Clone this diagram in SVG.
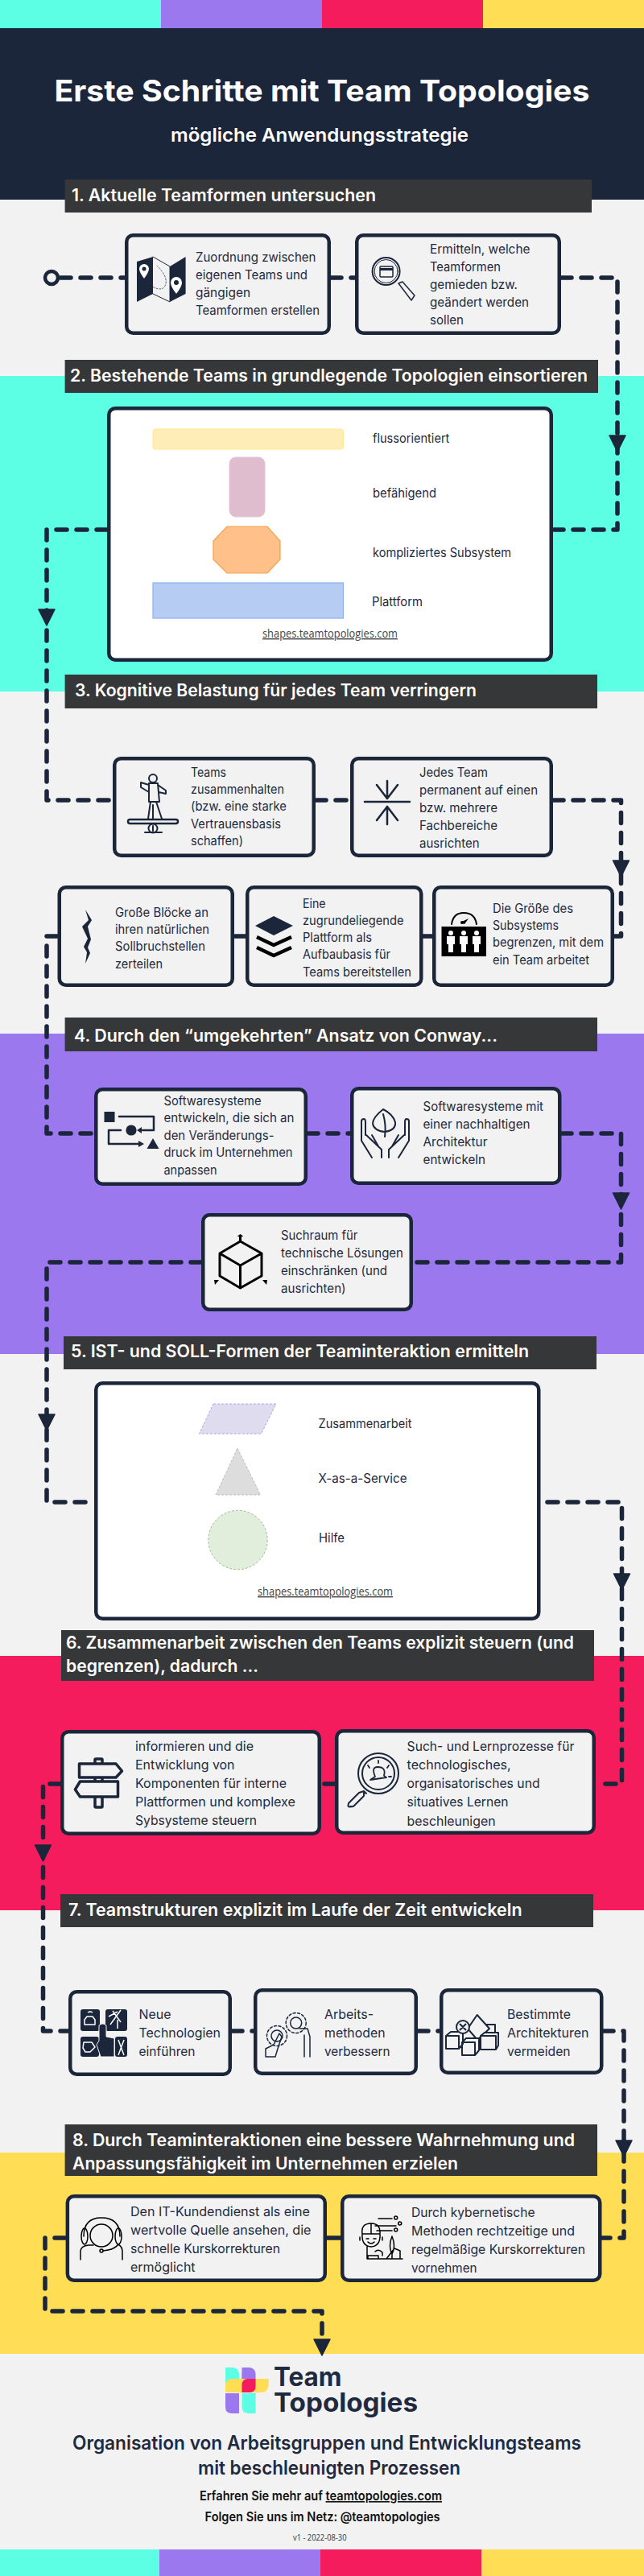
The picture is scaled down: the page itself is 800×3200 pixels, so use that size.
<svg xmlns="http://www.w3.org/2000/svg" width="800" height="3200" viewBox="0 0 800 3200">
<style>
text{font-family:Inter,"Liberation Sans",sans-serif;fill:#1f2a40}
.b{font-size:15.500px}
.e{font-size:16.500px}
.h{font-size:21px;font-weight:600;fill:#fff}
.s{font-family:"Open Sans","Liberation Sans",sans-serif;font-size:14px;fill:#444;text-decoration:underline}
.box{fill:#f2f2f2;stroke:#1b263b;stroke-width:4.500}
.wb{fill:#fff;stroke:#1b263b;stroke-width:4.500}
.bar{fill:#363739}
.c{fill:none;stroke:#1b263b;stroke-width:5.500;stroke-linecap:round;stroke-linejoin:round;stroke-dasharray:13 12}
.i{fill:none;stroke:#1b263b;stroke-width:2;stroke-linecap:round;stroke-linejoin:round}
.d{fill:#1b263b}
.w{fill:#fff}
</style>
<defs>
<path id="ah" d="M-10 0H10L0 20Z" fill="#1b263b" stroke="#1b263b" stroke-width="1.500" stroke-linejoin="round"/>
</defs>
<g id="background">
<rect width="800" height="3200" fill="#f2f2f2"/>
<rect width="200" height="35" fill="#5cffe4"/><rect x="200" width="200" height="35" fill="#9b78ee"/><rect x="400" width="200" height="35" fill="#f51c5e"/><rect x="600" width="200" height="35" fill="#ffdd55"/>
<rect y="35" width="800" height="213" fill="#1b263b"/>
<rect y="467" width="800" height="392" fill="#5cffe4"/>
<rect y="1284" width="800" height="398" fill="#9b78ee"/>
<rect y="2057" width="800" height="316" fill="#f51c5e"/>
<rect y="2674" width="800" height="250" fill="#ffdd55"/>
<rect y="3167" width="198" height="33" fill="#5cffe4"/><rect x="198" y="3167" width="200" height="33" fill="#9b78ee"/><rect x="398" y="3167" width="200.500" height="33" fill="#f51c5e"/><rect x="598.500" y="3167" width="201.500" height="33" fill="#ffdd55"/>
</g>
<g id="connectors">
<circle cx="64" cy="345" r="8" fill="none" stroke="#1b263b" stroke-width="4.500"/>
<path class="c" d="M75 345H155"/>
<path class="c" d="M411 345H441"/>
<path class="c" d="M697 345H767V658H688"/>
<path class="c" d="M133 658H58V994H140"/>
<path class="c" d="M392 994H435"/>
<path class="c" d="M687 994H771.500V1163H763"/>
<path class="c" d="M537 1163H525"/>
<path class="c" d="M305 1163H291"/>
<path class="c" d="M71 1163H58V1408H117"/>
<path class="c" d="M382 1408H435"/>
<path class="c" d="M697 1408H771.500V1568H513"/>
<path class="c" d="M250 1568H58V1866H117"/>
<path class="c" d="M680 1866H772.500V2216H740"/>
<path class="c" d="M416 2216H399"/>
<path class="c" d="M75 2216H53.500V2523H85"/>
<path class="c" d="M288 2523H315"/>
<path class="c" d="M519 2523H546"/>
<path class="c" d="M749 2523H775V2780H747"/>
<path class="c" style="stroke-dasharray:none" d="M423 2780H406"/>
<path class="c" d="M81 2780H56V2871H400V2905"/>
<use href="#ah" x="767" y="541"/>
<use href="#ah" x="58" y="757"/>
<use href="#ah" x="771.500" y="1069"/>
<use href="#ah" x="771.500" y="1482"/>
<use href="#ah" x="58" y="1757"/>
<use href="#ah" x="772.500" y="1955"/>
<use href="#ah" x="53.500" y="2292"/>
<use href="#ah" x="775" y="2659"/>
<use href="#ah" x="400" y="2906"/>
</g>
<g id="title">
<text x="400" y="126" text-anchor="middle" textLength="665" lengthAdjust="spacingAndGlyphs" font-size="37" font-weight="700" style="fill:#fff">Erste Schritte mit Team Topologies</text>
<text x="397" y="176" text-anchor="middle" textLength="370" lengthAdjust="spacingAndGlyphs" font-size="23" font-weight="600" style="fill:#fff">mögliche Anwendungsstrategie</text>
</g>
<g id="section-1"><rect class="bar" x="80.600" y="223" width="654.400" height="41"/><text class="h" x="89" y="250" textLength="378" lengthAdjust="spacingAndGlyphs">1. Aktuelle Teamformen untersuchen</text></g>
<g id="section-2"><rect class="bar" x="80.600" y="447" width="662.400" height="41"/><text class="h" x="87" y="474" textLength="643" lengthAdjust="spacingAndGlyphs">2. Bestehende Teams in grundlegende Topologien einsortieren</text></g>
<g id="section-3"><rect class="bar" x="80.600" y="838" width="661.400" height="42"/><text class="h" x="93" y="865" textLength="499" lengthAdjust="spacingAndGlyphs">3. Kognitive Belastung für jedes Team verringern</text></g>
<g id="section-4"><rect class="bar" x="80.600" y="1264" width="661.400" height="42"/><text class="h" x="92" y="1294" textLength="526" lengthAdjust="spacingAndGlyphs">4. Durch den “umgekehrten” Ansatz von Conway...</text></g>
<g id="section-5"><rect class="bar" x="79" y="1660" width="662" height="41"/><text class="h" x="88" y="1686" textLength="569" lengthAdjust="spacingAndGlyphs">5. IST- und SOLL-Formen der Teaminteraktion ermitteln</text></g>
<g id="section-6"><rect class="bar" x="76" y="2025" width="662" height="63"/><text class="h" x="82" y="2048" textLength="631" lengthAdjust="spacingAndGlyphs">6. Zusammenarbeit zwischen den Teams explizit steuern (und</text><text class="h" x="82" y="2077" textLength="239" lengthAdjust="spacingAndGlyphs">begrenzen), dadurch ...</text></g>
<g id="section-7"><rect class="bar" x="75" y="2353" width="662" height="41"/><text class="h" x="85" y="2380" textLength="563.500" lengthAdjust="spacingAndGlyphs">7. Teamstrukturen explizit im Laufe der Zeit entwickeln</text></g>
<g id="section-8"><rect class="bar" x="80.600" y="2639" width="661.400" height="64"/><text class="h" x="90" y="2666" textLength="624" lengthAdjust="spacingAndGlyphs">8. Durch Teaminteraktionen eine bessere Wahrnehmung und</text><text class="h" x="90" y="2695" textLength="479" lengthAdjust="spacingAndGlyphs">Anpassungsfähigkeit im Unternehmen erzielen</text></g>

<g id="n1"><rect class="box" x="157.250" y="292.250" width="251.500" height="121.500" rx="8"/>
<path class="d" d="M170 325L190 319V365L170 375ZM211 331L230.600 319V365L211 375Z"/><path class="i" style="stroke-width:1" d="M190 319L211 331V375L190 365"/><path class="i" style="stroke-width:.7;stroke-dasharray:2 2" d="M180 350Q200 365 205 355T195 330"/>
<path class="w" d="M179 346Q173 338 173 334A6 6 0 0 1 185 334Q185 338 179 346ZM219 365Q212 356 212 351A7 7 0 0 1 226 351Q226 356 219 365Z"/><circle class="d" cx="179" cy="334" r="2.500"/><circle class="d" cx="219" cy="351" r="3"/>
<text class="b" x="243" y="325" textLength="149.500" lengthAdjust="spacingAndGlyphs">Zuordnung zwischen</text><text class="b" x="243" y="347" textLength="139" lengthAdjust="spacingAndGlyphs">eigenen Teams und</text><text class="b" x="243" y="369" textLength="68" lengthAdjust="spacingAndGlyphs">gängigen</text><text class="b" x="243" y="391" textLength="154" lengthAdjust="spacingAndGlyphs">Teamformen erstellen</text></g>
<g id="n2"><rect class="box" x="443.250" y="292.250" width="251.500" height="121.500" rx="8"/>
<circle cx="479.600" cy="337" r="17" fill="#f2f2f2" stroke="#1b263b" stroke-width="2"/><circle class="i" style="stroke-width:1" cx="479.600" cy="337" r="14.500"/>
<rect class="i" style="stroke-width:1.500" x="472" y="331" width="16" height="13" rx="1"/><rect class="d" x="472" y="333" width="16" height="3"/>
<path class="i" style="stroke-width:1.500" d="M495 352L500 350L515 367L511 373Z"/>
<text class="b" x="534" y="315" textLength="124.500" lengthAdjust="spacingAndGlyphs">Ermitteln, welche</text><text class="b" x="534" y="337" textLength="88" lengthAdjust="spacingAndGlyphs">Teamformen</text><text class="b" x="534" y="359" textLength="109" lengthAdjust="spacingAndGlyphs">gemieden bzw.</text><text class="b" x="534" y="381" textLength="123" lengthAdjust="spacingAndGlyphs">geändert werden</text><text class="b" x="534" y="403" textLength="42" lengthAdjust="spacingAndGlyphs">sollen</text></g>
<g id="n3"><rect class="wb" x="135.250" y="507.250" width="549.500" height="312.500" rx="8"/>
<rect x="190" y="533" width="236.500" height="25" rx="3" fill="#ffedb8" stroke="#ffe78f"/><rect x="285" y="568" width="44" height="74" rx="8" fill="#dfbdcf" stroke="#e2c4d4"/>
<path d="M282 654H332L348 672V695L332 712H282L265 695V672Z" fill="#ffc08a" stroke="#f2a24b" stroke-width="1.200"/><rect x="190" y="724" width="236.500" height="44" fill="#b7ccf2" stroke="#8cb0ee" stroke-width="1.200"/>
<text class="b" x="463" y="550" textLength="95.400" lengthAdjust="spacingAndGlyphs">flussorientiert</text><text class="b" x="463" y="618" textLength="79" lengthAdjust="spacingAndGlyphs">befähigend</text><text class="b" x="463" y="692" textLength="172" lengthAdjust="spacingAndGlyphs">kompliziertes Subsystem</text><text class="b" x="462" y="753" textLength="63" lengthAdjust="spacingAndGlyphs">Plattform</text><text class="s" x="326" y="792" textLength="168" lengthAdjust="spacingAndGlyphs">shapes.teamtopologies.com</text></g>
<g id="n4"><rect class="box" x="142.250" y="942.250" width="247.500" height="120.500" rx="8"/>
<ellipse class="i" cx="190" cy="967" rx="5" ry="5"/><path class="i" d="M185 973H196L198 996H185ZM185 975L175 972V978L185 984M196 975L206 982V986L197 984M187 996L184 1017M194 996L201 1017M190 1000L190 1017"/>
<rect class="i" style="stroke-width:2.500" x="159" y="1018" width="62" height="5" rx="2.500"/><circle class="i" cx="190" cy="1029" r="5.500"/><path class="i" d="M180 1034H201M190 1026V1032"/>
<text class="b" x="237" y="965" textLength="44" lengthAdjust="spacingAndGlyphs">Teams</text><text class="b" x="237" y="986" textLength="116" lengthAdjust="spacingAndGlyphs">zusammenhalten</text><text class="b" x="237" y="1007" textLength="119" lengthAdjust="spacingAndGlyphs">(bzw. eine starke</text><text class="b" x="237" y="1029" textLength="112" lengthAdjust="spacingAndGlyphs">Vertrauensbasis</text><text class="b" x="237" y="1050" textLength="65" lengthAdjust="spacingAndGlyphs">schaffen)</text></g>
<g id="n5"><rect class="box" x="437.250" y="942.250" width="247.500" height="120.500" rx="8"/>
<path class="i" style="stroke-width:2.500" d="M453 996H509M481 970V992M468 975L481 992L494 975M481 1024V1002M468 1019L481 1002L494 1019"/>
<text class="b" x="521" y="965" textLength="85" lengthAdjust="spacingAndGlyphs">Jedes Team</text><text class="b" x="521" y="987" textLength="147" lengthAdjust="spacingAndGlyphs">permanent auf einen</text><text class="b" x="521" y="1009" textLength="97" lengthAdjust="spacingAndGlyphs">bzw. mehrere</text><text class="b" x="521" y="1031" textLength="97" lengthAdjust="spacingAndGlyphs">Fachbereiche</text><text class="b" x="521" y="1053" textLength="74.500" lengthAdjust="spacingAndGlyphs">ausrichten</text></g>
<g id="n6"><rect class="box" x="73.750" y="1102.250" width="215" height="121.500" rx="8"/>
<path class="d" d="M106 1130L114 1143L109 1151L113 1167L109 1177L112 1184L106 1197L108 1183L104 1176L109 1166L102 1151L110 1143Z"/>
<text class="b" x="143" y="1139" textLength="116" lengthAdjust="spacingAndGlyphs">Große Blöcke an</text><text class="b" x="143" y="1160" textLength="117" lengthAdjust="spacingAndGlyphs">ihren natürlichen</text><text class="b" x="143" y="1181" textLength="112" lengthAdjust="spacingAndGlyphs">Sollbruchstellen</text><text class="b" x="143" y="1203" textLength="59" lengthAdjust="spacingAndGlyphs">zerteilen</text></g>
<g id="n7"><rect class="box" x="307.250" y="1102.250" width="216" height="121.500" rx="8"/>
<path class="d" d="M340 1138L364 1150L340 1162L317 1150Z"/><path class="i" style="stroke-width:4.500;stroke:#000;stroke-linecap:butt" d="M319 1164L340 1174L362 1164M319 1177L340 1187L362 1177"/>
<text class="b" x="376" y="1128" textLength="28.600" lengthAdjust="spacingAndGlyphs">Eine</text><text class="b" x="376" y="1149" textLength="125.500" lengthAdjust="spacingAndGlyphs">zugrundeliegende</text><text class="b" x="376" y="1170" textLength="86" lengthAdjust="spacingAndGlyphs">Plattform als</text><text class="b" x="376" y="1191" textLength="109" lengthAdjust="spacingAndGlyphs">Aufbaubasis für</text><text class="b" x="376" y="1213" textLength="135" lengthAdjust="spacingAndGlyphs">Teams bereitstellen</text></g>
<g id="n8"><rect class="box" x="539.250" y="1102.250" width="221.500" height="121.500" rx="8"/>
<path class="i" style="stroke:#000" d="M561 1148Q563 1134 576 1134Q590 1134 592 1148"/><path d="M572 1146L582 1141L577 1148Z" fill="#000"/><circle cx="574" cy="1146" r="2" fill="#000"/>
<rect x="548.500" y="1151" width="55.500" height="37" fill="#000"/>
<g class="w"><circle cx="560" cy="1159" r="3"/><path d="M555 1163H565V1173H563V1183H557V1173H555Z"/><circle cx="576" cy="1159" r="3"/><path d="M571 1163H581V1173H579V1183H573V1173H571Z"/><circle cx="592" cy="1159" r="3"/><path d="M587 1163H597V1173H595V1183H589V1173H587Z"/></g>
<text class="b" x="612" y="1134" textLength="100" lengthAdjust="spacingAndGlyphs">Die Größe des</text><text class="b" x="612" y="1155" textLength="82" lengthAdjust="spacingAndGlyphs">Subsystems</text><text class="b" x="612" y="1176" textLength="138" lengthAdjust="spacingAndGlyphs">begrenzen, mit dem</text><text class="b" x="612" y="1198" textLength="120" lengthAdjust="spacingAndGlyphs">ein Team arbeitet</text></g>
<g id="n9"><rect class="box" x="119.250" y="1353.250" width="260.500" height="117.500" rx="8"/>
<rect class="d" x="129.500" y="1381" width="13" height="13"/><circle class="d" cx="163" cy="1404" r="6.600"/><path class="d" d="M190 1414L197.500 1427H182.500Z"/>
<path class="i" style="stroke-width:2.500" d="M148 1387H191V1404H177M150 1404H135V1421H176"/><path class="d" d="M176 1400V1408L170 1404ZM172 1417V1425L179 1421Z"/>
<text class="b" x="203.500" y="1373" textLength="121" lengthAdjust="spacingAndGlyphs">Softwaresysteme</text><text class="b" x="203.500" y="1394" textLength="162" lengthAdjust="spacingAndGlyphs">entwickeln, die sich an</text><text class="b" x="203.500" y="1416" textLength="137" lengthAdjust="spacingAndGlyphs">den Veränderungs-</text><text class="b" x="203.500" y="1437" textLength="160" lengthAdjust="spacingAndGlyphs">druck im Unternehmen</text><text class="b" x="203.500" y="1459" textLength="66" lengthAdjust="spacingAndGlyphs">anpassen</text></g>
<g id="n10"><rect class="box" x="437.250" y="1352.250" width="258" height="117.500" rx="8"/>
<path class="i" d="M476 1378Q463 1388 463 1396Q465 1405 478 1406Q492 1404 491 1394Q488 1384 476 1378ZM476 1384Q480 1398 478 1412"/>
<path class="i" d="M449 1393Q449 1390 452 1390Q454 1390 454 1394V1410M449 1393V1417L462 1438M455 1410L474 1428V1438M462 1410L470 1424M508 1393Q508 1390 505 1390Q503 1390 503 1394V1410M508 1393V1417L495 1438M502 1410L483 1428V1438M495 1410L487 1424"/>
<text class="b" x="525.500" y="1380" textLength="149.500" lengthAdjust="spacingAndGlyphs">Softwaresysteme mit</text><text class="b" x="525.500" y="1402" textLength="133" lengthAdjust="spacingAndGlyphs">einer nachhaltigen</text><text class="b" x="525.500" y="1424" textLength="80" lengthAdjust="spacingAndGlyphs">Architektur</text><text class="b" x="525.500" y="1446" textLength="77.500" lengthAdjust="spacingAndGlyphs">entwickeln</text></g>
<g id="n11"><rect class="box" x="252.250" y="1509.250" width="258.500" height="117.500" rx="8"/>
<path class="i" style="stroke:#000;stroke-width:3" d="M298.500 1542L325 1557V1585L298.500 1600L273 1585V1557ZM273 1557L298.500 1572L325 1557M298.500 1572V1600M298.500 1542V1536"/>
<path d="M294.500 1536L298.500 1533L302.500 1536ZM266 1590L272 1590L267 1596ZM326 1590L332 1590L331 1596Z" fill="#000"/>
<text class="b" x="349" y="1540" textLength="95.400" lengthAdjust="spacingAndGlyphs">Suchraum für</text><text class="b" x="349" y="1562" textLength="152" lengthAdjust="spacingAndGlyphs">technische Lösungen</text><text class="b" x="349" y="1584" textLength="132" lengthAdjust="spacingAndGlyphs">einschränken (und</text><text class="b" x="349" y="1606" textLength="80.600" lengthAdjust="spacingAndGlyphs">ausrichten)</text></g>
<g id="n12"><rect class="wb" x="119.250" y="1718.250" width="550" height="292.500" rx="8"/>
<path d="M265 1744H343L324.500 1781H247.500Z" fill="#e0dcef" stroke="#b5a3eb" stroke-dasharray="3 2"/><path d="M295 1799L323.500 1857H268Z" fill="#ddd" stroke="#bbb" stroke-dasharray="3 2"/><circle cx="295.500" cy="1913" r="36.700" fill="#e2eedc" stroke="#9dbb91" stroke-dasharray="3 2"/>
<text class="b" x="395.500" y="1774" textLength="116" lengthAdjust="spacingAndGlyphs">Zusammenarbeit</text><text class="b" x="395.500" y="1842" textLength="110" lengthAdjust="spacingAndGlyphs">X-as-a-Service</text><text class="b" x="396" y="1916" textLength="32" lengthAdjust="spacingAndGlyphs">Hilfe</text><text class="s" x="320" y="1982" textLength="168" lengthAdjust="spacingAndGlyphs">shapes.teamtopologies.com</text></g>
<g id="n13"><rect class="box" x="77.250" y="2151.250" width="319.500" height="126.500" rx="8"/>
<rect class="i" style="stroke-width:3.500" x="118" y="2185" width="9" height="60" rx="1"/><path d="M98.500 2191H144L151.500 2200L144 2208H98.500Z" fill="#f2f2f2" stroke="#1b263b" stroke-width="3.500" stroke-linejoin="round"/><path d="M146.500 2213H99.500L93.400 2223L99.500 2232H146.500Z" fill="#f2f2f2" stroke="#1b263b" stroke-width="3.500" stroke-linejoin="round"/>
<text class="e" x="168" y="2175" textLength="147" lengthAdjust="spacingAndGlyphs">informieren und die</text><text class="e" x="168" y="2198" textLength="123.500" lengthAdjust="spacingAndGlyphs">Entwicklung von</text><text class="e" x="168" y="2221" textLength="188" lengthAdjust="spacingAndGlyphs">Komponenten für interne</text><text class="e" x="168" y="2244" textLength="199" lengthAdjust="spacingAndGlyphs">Plattformen und komplexe</text><text class="e" x="168" y="2267" textLength="151" lengthAdjust="spacingAndGlyphs">Sybsysteme steuern</text></g>
<g id="n14"><rect class="box" x="418.250" y="2150.250" width="319.500" height="126.500" rx="8"/>
<circle class="i" cx="470" cy="2203" r="25"/><circle class="i" cx="470" cy="2203" r="20"/><path class="i" style="stroke-width:1.800" d="M460 2211L466 2207Q461 2195 469 2195Q480 2195 477 2206L480 2208ZM470 2187V2190M483 2193L481 2196M457 2193L459 2196M486 2207H483"/>
<path class="i" d="M452 2225L446 2227L433 2240Q431 2246 436 2244Q438 2245 440 2243L452 2231ZM452 2225L455 2228"/>
<text class="e" x="505.600" y="2175" textLength="207.700" lengthAdjust="spacingAndGlyphs">Such- und Lernprozesse für</text><text class="e" x="505.600" y="2198" textLength="129" lengthAdjust="spacingAndGlyphs">technologisches,</text><text class="e" x="505.600" y="2221" textLength="165" lengthAdjust="spacingAndGlyphs">organisatorisches und</text><text class="e" x="505.600" y="2244" textLength="126" lengthAdjust="spacingAndGlyphs">situatives Lernen</text><text class="e" x="505.600" y="2268" textLength="110" lengthAdjust="spacingAndGlyphs">beschleunigen</text></g>
<g id="n15"><rect class="box" x="87.250" y="2474.250" width="198.500" height="102.500" rx="8"/>
<rect class="d" x="100" y="2496" width="24" height="27" rx="3"/><rect class="d" x="131" y="2496" width="27" height="27" rx="3"/><rect class="d" x="100" y="2530" width="23" height="25" rx="3"/><rect class="d" x="143" y="2530" width="15" height="25" rx="3"/>
<path class="d" stroke="#f2f2f2" d="M123 2516Q128 2512 132 2516V2530L142 2532V2555H125L120 2540L123 2535Z"/>
<path fill="none" stroke="#fff" stroke-width="1.500" stroke-linejoin="round" d="M105 2515V2509L108 2505H115L118 2509V2515ZM109 2500Q112 2498 115 2500M135 2505L146 2499M150 2497L137 2515M140 2498L150 2512M146 2509V2520M104 2537H114L118 2543L112 2549H106L103 2544ZM147 2534L154 2553M154 2534L147 2553"/>
<text class="e" x="172.500" y="2508" textLength="40" lengthAdjust="spacingAndGlyphs">Neue</text><text class="e" x="172.500" y="2531" textLength="101.500" lengthAdjust="spacingAndGlyphs">Technologien</text><text class="e" x="172.500" y="2554" textLength="70" lengthAdjust="spacingAndGlyphs">einführen</text></g>
<g id="n16"><rect class="box" x="317.250" y="2472.250" width="199.500" height="103.500" rx="8"/>
<circle class="i" style="stroke-width:1.500" cx="367.700" cy="2513" r="7"/><circle class="i" style="stroke-width:1.500;stroke-dasharray:3 2.500" cx="367.700" cy="2513" r="12.500"/><circle class="i" style="stroke-width:1.500" cx="344" cy="2529" r="7"/><circle class="i" style="stroke-width:1.500;stroke-dasharray:3 2.500" cx="344" cy="2529" r="12.500"/>
<path class="i" style="stroke-width:1.500" d="M330 2555V2545L340 2540L347 2526L350 2530L345 2545L342 2555ZM372 2520H382L385 2530V2555M378 2528V2555"/>
<text class="e" x="403" y="2508" textLength="61" lengthAdjust="spacingAndGlyphs">Arbeits-</text><text class="e" x="403" y="2531" textLength="75.500" lengthAdjust="spacingAndGlyphs">methoden</text><text class="e" x="403" y="2554" textLength="81.600" lengthAdjust="spacingAndGlyphs">verbessern</text></g>
<g id="n17"><rect class="box" x="548.250" y="2472.250" width="199" height="102.500" rx="8"/>
<path class="i" d="M592.700 2503L608 2520L593 2534L581 2520ZM604 2515H615V2525"/>
<path class="i" style="fill:#f2f2f2" d="M554 2529H570V2545H554ZM554 2529L560 2524H575V2539L570 2545M597 2529H616V2546H597ZM597 2529L602 2525H619V2541L616 2546M574 2537H590V2553H574ZM574 2537L579 2532H595V2547L590 2553"/>
<circle cx="575" cy="2518" r="8" fill="#f2f2f2" stroke="#1b263b" stroke-width="2"/><path class="i" d="M571.500 2514.500L578.500 2521.500M578.500 2514.500L571.500 2521.500"/>
<text class="e" x="630" y="2508" textLength="79" lengthAdjust="spacingAndGlyphs">Bestimmte</text><text class="e" x="630" y="2531" textLength="101.500" lengthAdjust="spacingAndGlyphs">Architekturen</text><text class="e" x="630" y="2554" textLength="78.600" lengthAdjust="spacingAndGlyphs">vermeiden</text></g>
<g id="n18"><rect class="box" x="83.850" y="2728.250" width="319.900" height="104.500" rx="8"/>
<g class="i" style="stroke:#000;stroke-width:1.500"><circle cx="126" cy="2777" r="14"/><path d="M104 2778Q104 2755 126 2755Q149 2755 149 2778"/><ellipse cx="105" cy="2778" rx="4" ry="10"/><ellipse cx="147" cy="2778" rx="4" ry="10"/><path d="M100 2807V2797Q100 2790 110 2789H116M152 2807V2797Q152 2790 146 2788M147 2788Q142 2795 128 2796"/><circle cx="126" cy="2796" r="2"/></g>
<text class="e" x="162" y="2753" textLength="223" lengthAdjust="spacingAndGlyphs">Den IT-Kundendienst als eine</text><text class="e" x="162" y="2776" textLength="224.500" lengthAdjust="spacingAndGlyphs">wertvolle Quelle ansehen, die</text><text class="e" x="162" y="2799" textLength="186" lengthAdjust="spacingAndGlyphs">schnelle Kurskorrekturen</text><text class="e" x="162" y="2822" textLength="80.600" lengthAdjust="spacingAndGlyphs">ermöglicht</text></g>
<g id="n19"><rect class="box" x="425.250" y="2728.250" width="320" height="104.500" rx="8"/>
<g class="i" style="stroke:#000;stroke-width:1.500"><path d="M450 2775Q448 2762 461 2762Q473 2762 472 2775ZM461 2762V2775M450 2775Q449 2790 461 2791Q473 2790 472 2775M447 2779V2783M475 2779V2783M455 2781H458M464 2781H467M457 2785Q461 2789 465 2785M456 2791V2806H500M457 2806V2802H470V2806M466 2797Q470 2793 475 2798V2802M487 2778Q482 2790 487 2800Q492 2790 487 2778ZM487 2800V2806M480 2806L490 2793L497 2796V2806M470 2756H487M466 2765H492M468 2771H487"/><circle cx="491.700" cy="2755" r="2"/><circle cx="496.700" cy="2762" r="2"/><circle cx="491.700" cy="2770" r="2"/></g>
<text class="e" x="511" y="2754" textLength="153.600" lengthAdjust="spacingAndGlyphs">Durch kybernetische</text><text class="e" x="511" y="2777" textLength="203" lengthAdjust="spacingAndGlyphs">Methoden rechtzeitige und</text><text class="e" x="511" y="2800" textLength="216" lengthAdjust="spacingAndGlyphs">regelmäßige Kurskorrekturen</text><text class="e" x="511" y="2823" textLength="81.600" lengthAdjust="spacingAndGlyphs">vornehmen</text></g>
<g id="footer">
<rect x="280" y="2941" width="17" height="31" rx="8" fill="#5cffe4"/><rect x="280" y="2941" width="8" height="31" fill="#5cffe4"/>
<rect x="300.500" y="2941" width="17" height="31" rx="8" fill="#9b78ee"/><rect x="300.500" y="2941" width="8" height="31" fill="#9b78ee"/>
<path d="M280 2963Q280 2955 290 2955H333.700V2962Q333.700 2972 323 2972H280Z" fill="#ffdd55"/>
<path d="M300.500 2972V2963Q300.500 2955 308 2955H317.500V2964Q317.500 2972 310 2972Z" fill="#f51c5e"/>
<path d="M280 2973H297V2998H288Q280 2998 280 2990Z" fill="#9b78ee"/><path d="M300.500 2973H317.500V2998H309Q300.500 2998 300.500 2990Z" fill="#5cffe4"/>
<text x="340" y="2964" textLength="84.500" lengthAdjust="spacingAndGlyphs" font-size="32" font-weight="700">Team</text><text x="340" y="2996" textLength="179" lengthAdjust="spacingAndGlyphs" font-size="32" font-weight="700">Topologies</text>
<text x="406" y="3043" text-anchor="middle" textLength="632" lengthAdjust="spacingAndGlyphs" font-size="24" font-weight="600">Organisation von Arbeitsgruppen und Entwicklungsteams</text>
<text x="409" y="3074" text-anchor="middle" textLength="326" lengthAdjust="spacingAndGlyphs" font-size="24" font-weight="600">mit beschleunigten Prozessen</text>
<text x="248" y="3106" textLength="301" lengthAdjust="spacingAndGlyphs" font-size="16" font-weight="600" style="fill:#111">Erfahren Sie mehr auf <tspan text-decoration="underline">teamtopologies.com</tspan></text>
<text x="254.600" y="3132" textLength="292" lengthAdjust="spacingAndGlyphs" font-size="16" font-weight="600" style="fill:#111">Folgen Sie uns im Netz: @teamtopologies</text>
<text x="364" y="3156" textLength="66.500" lengthAdjust="spacingAndGlyphs" font-size="11" style="font-family:'Open Sans',sans-serif;fill:#333">v1 - 2022-08-30</text>
</g>
</svg>
